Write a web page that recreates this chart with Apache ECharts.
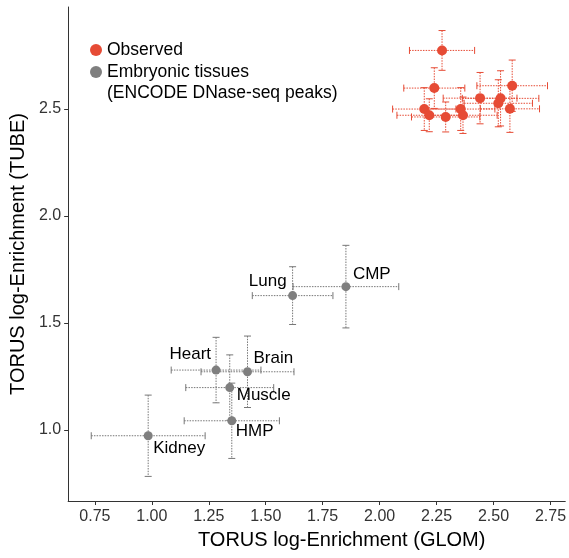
<!DOCTYPE html>
<html><head><meta charset="utf-8">
<script src="https://cdn.jsdelivr.net/npm/echarts@6/dist/echarts.min.js"></script>
<style>html,body{margin:0;padding:0;background:#fff}#c{width:569px;height:558px}</style>
</head><body><div id="c"></div>
<script>
// Observed (red) points
const obsX    = [2.274, 2.240, 2.582, 2.441, 2.531, 2.521, 2.196, 2.356, 2.572, 2.218, 2.290, 2.366];
const obsY    = [2.774, 2.598, 2.609, 2.551, 2.550, 2.527, 2.500, 2.500, 2.501, 2.471, 2.463, 2.471];
const obsXErr = [0.143, 0.134, 0.155, 0.162, 0.168, 0.150, 0.139, 0.150, 0.130, 0.142, 0.150, 0.150];
const obsYErr = [0.093, 0.095, 0.120, 0.120, 0.129, 0.110, 0.100, 0.100, 0.110, 0.077, 0.070, 0.085];

// Embryonic tissues (grey) points
const tissueNames = ['Lung', 'CMP', 'Heart', 'Brain', 'Muscle', 'HMP', 'Kidney'];
const tissueX     = [1.618, 1.852, 1.282, 1.420, 1.342, 1.351, 0.984];
const tissueY     = [1.628, 1.670, 1.280, 1.272, 1.198, 1.043, 0.973];
const tissueXErr  = [0.177, 0.232, 0.197, 0.204, 0.193, 0.209, 0.250];
const tissueYErr  = [0.135, 0.193, 0.153, 0.167, 0.153, 0.176, 0.190];

// Tick labels
const xTicks = [0.75, 1.00, 1.25, 1.50, 1.75, 2.00, 2.25, 2.50, 2.75];
const yTicks = [1.0, 1.5, 2.0, 2.5];

// label placement (style only): [align, dx, dy]
const labelPlacement = [['right',-6,-14],['left',7,-12],['right',-5,-16],['left',6,-13],['left',7,8],['left',4,11],['left',5,13]];

const FONT = '"Liberation Sans", Arial, Helvetica, sans-serif';
const RED = '#E64B35', GREY = '#7F7F7F';

function errRender(color){
  return function(params, api){
    const x = api.value(0), y = api.value(1), ex = api.value(2), ey = api.value(3);
    const l = api.coord([x - ex, y]), r = api.coord([x + ex, y]);
    const t = api.coord([x, y + ey]), b = api.coord([x, y - ey]);
    const cap = 3.5;
    const dotted = {stroke: color, lineWidth: 1, lineDash: [1.5, 1.2]};
    const solid = {stroke: color, lineWidth: 1};
    return {type: 'group', children: [
      {type: 'line', shape: {x1: l[0], y1: l[1], x2: r[0], y2: r[1]}, style: dotted},
      {type: 'line', shape: {x1: l[0], y1: l[1] - cap, x2: l[0], y2: l[1] + cap}, style: solid},
      {type: 'line', shape: {x1: r[0], y1: r[1] - cap, x2: r[0], y2: r[1] + cap}, style: solid},
      {type: 'line', shape: {x1: t[0], y1: t[1], x2: b[0], y2: b[1]}, style: dotted},
      {type: 'line', shape: {x1: t[0] - cap, y1: t[1], x2: t[0] + cap, y2: t[1]}, style: solid},
      {type: 'line', shape: {x1: b[0] - cap, y1: b[1], x2: b[0] + cap, y2: b[1]}, style: solid}
    ]};
  };
}

const obsErrData = obsX.map((v, i) => [v, obsY[i], obsXErr[i], obsYErr[i]]);
const tisErrData = tissueX.map((v, i) => [v, tissueY[i], tissueXErr[i], tissueYErr[i]]);
const obsPts = obsX.map((v, i) => [v, obsY[i]]);
const tisPts = tissueX.map((v, i) => ({
  name: tissueNames[i], value: [v, tissueY[i]],
  label: {align: labelPlacement[i][0], offset: [labelPlacement[i][1], labelPlacement[i][2]]}
}));

const chart = echarts.init(document.getElementById('c'), null, {renderer: 'canvas'});
chart.setOption({
  animation: false,
  grid: {left: 67, right: 0, top: 7, bottom: 57},
  xAxis: {
    type: 'value', min: 0.6326, max: 2.815,
    name: 'TORUS log-Enrichment (GLOM)', nameLocation: 'middle', nameGap: 29,
    nameTextStyle: {fontSize: 20, fontFamily: FONT, color: '#000', padding: [0, 0, 0, 50]},
    axisLine: {onZero: false, lineStyle: {color: '#333', width: 1}},
    axisTick: {show: true, length: 4, customValues: xTicks, lineStyle: {color: '#333'}},
    axisLabel: {customValues: xTicks, formatter: v => v.toFixed(2), fontSize: 16, fontFamily: FONT, color: '#333', margin: 8},
    splitLine: {show: false}
  },
  yAxis: {
    type: 'value', min: 0.668, max: 2.977,
    name: 'TORUS log-Enrichment (TUBE)', nameLocation: 'middle', nameGap: 36,
    nameTextStyle: {fontSize: 20, fontFamily: FONT, color: '#000'},
    axisLine: {show: true, onZero: false, lineStyle: {color: '#333', width: 1}},
    axisTick: {show: true, length: 4, customValues: yTicks, lineStyle: {color: '#333'}},
    axisLabel: {customValues: yTicks, formatter: v => v.toFixed(1), fontSize: 16, fontFamily: FONT, color: '#333', margin: 7},
    splitLine: {show: false}
  },
  legend: {
    orient: 'vertical', left: 85, top: 36, itemWidth: 12, itemHeight: 12, itemGap: 4,
    icon: 'circle', selectedMode: false,
    textStyle: {fontSize: 17.5, fontFamily: FONT, color: '#000', lineHeight: 18},
    data: ['Observed', 'Embryonic tissues']
  },
  graphic: [{
    type: 'text', left: 107, top: 84,
    style: {text: '(ENCODE DNase-seq peaks)', font: '17.5px ' + FONT, fill: '#000'}
  }],
  series: [
    {type: 'custom', name: 'obsErr', renderItem: errRender(RED), data: obsErrData, encode: {x: 0, y: 1}, z: 1, silent: true},
    {type: 'custom', name: 'tisErr', renderItem: errRender('#777'), data: tisErrData, encode: {x: 0, y: 1}, z: 1, silent: true},
    {type: 'scatter', name: 'Observed', data: obsPts, symbolSize: 10, itemStyle: {color: RED, opacity: 1}, z: 3},
    {type: 'scatter', name: 'Embryonic tissues', data: tisPts, symbolSize: 9, itemStyle: {color: GREY, opacity: 1}, z: 3,
      label: {show: true, position: 'inside', formatter: p => p.name, fontSize: 17, fontFamily: FONT, color: '#000', verticalAlign: 'middle'}}
  ]
});
</script>
</body></html>
